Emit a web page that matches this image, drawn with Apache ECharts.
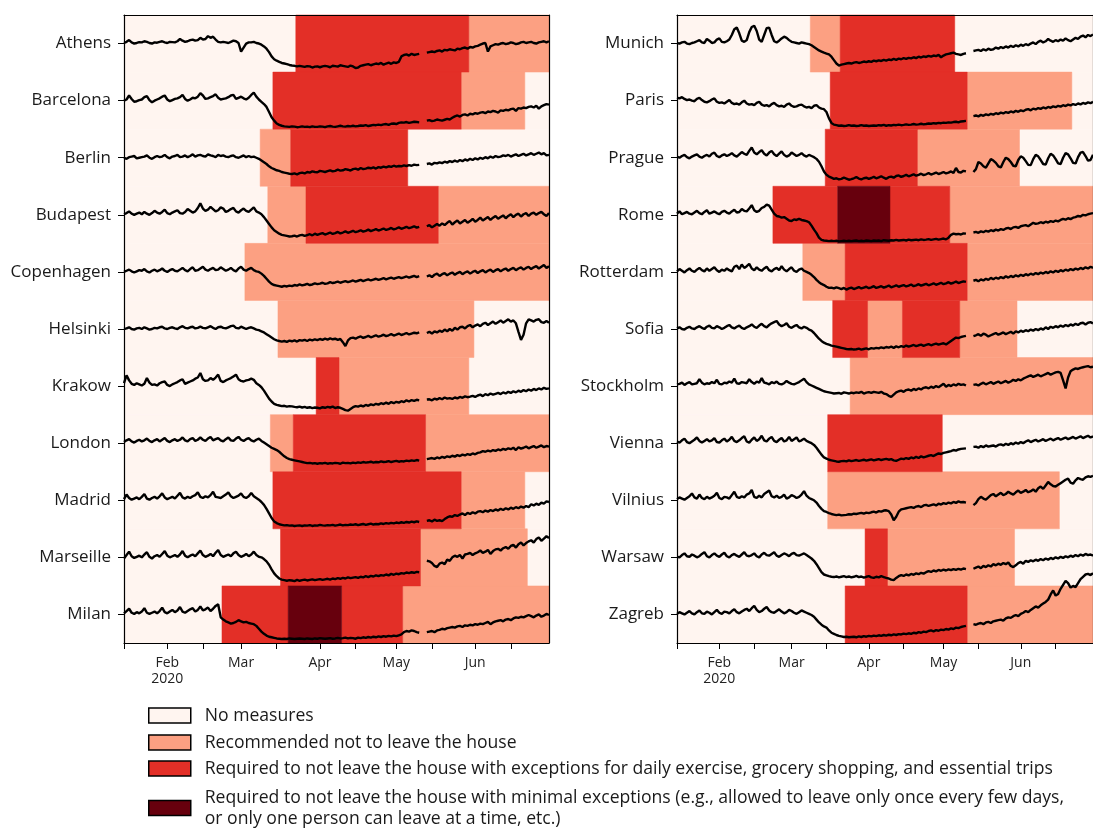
<!DOCTYPE html>
<html><head><meta charset="utf-8">
<script src="https://cdn.jsdelivr.net/npm/echarts@6/dist/echarts.min.js"></script>
<style>html,body{margin:0;padding:0;background:#fff}#c{width:1093px;height:829px}</style>
</head><body><div id="c"></div>
<script>
const startDate = '2020-01-15';
const axisEnd = '2020-06-30';
const leftCities = ['Athens','Barcelona','Berlin','Budapest','Copenhagen','Helsinki','Krakow','London','Madrid','Marseille','Milan'];
const rightCities = ['Munich','Paris','Prague','Rome','Rotterdam','Sofia','Stockholm','Vienna','Vilnius','Warsaw','Zagreb'];
const levelNames = [
  'No measures',
  'Recommended not to leave the house',
  'Required to not leave the house with exceptions for daily exercise, grocery shopping, and essential trips',
  'Required to not leave the house with minimal exceptions (e.g., allowed to leave only once every few days,\nor only one person can leave at a time, etc.)'
];
const levelColors = ['#fff5f0','#fca082','#e32f27','#67000d'];
const tickDates = ['2020-01-15','2020-02-01','2020-02-15','2020-03-01','2020-03-15','2020-04-01','2020-04-15','2020-05-01','2020-05-15','2020-06-01','2020-06-15'];
const labelDates = ['2020-02-01','2020-03-01','2020-04-01','2020-05-01','2020-06-01'];
const labelTexts = ['Feb\n2020','Mar','Apr','May','Jun'];

// measures: [first day of period, level]
const measAthens = [['2020-01-15',0],['2020-03-23',2],['2020-05-30',1]];
const measBarcelona = [['2020-01-15',0],['2020-03-14',2],['2020-05-27',1],['2020-06-21',0]];
const measBerlin = [['2020-01-15',0],['2020-03-09',1],['2020-03-21',2],['2020-05-06',0]];
const measBudapest = [['2020-01-15',0],['2020-03-12',1],['2020-03-27',2],['2020-05-18',1]];
const measCopenhagen = [['2020-01-15',0],['2020-03-03',1]];
const measHelsinki = [['2020-01-15',0],['2020-03-16',1],['2020-06-01',0]];
const measKrakow = [['2020-01-15',0],['2020-03-31',2],['2020-04-09',1],['2020-05-30',0]];
const measLondon = [['2020-01-15',0],['2020-03-13',1],['2020-03-22',2],['2020-05-13',1]];
const measMadrid = [['2020-01-15',0],['2020-03-14',2],['2020-05-27',1],['2020-06-21',0]];
const measMarseille = [['2020-01-15',0],['2020-03-17',2],['2020-05-11',1],['2020-06-22',0]];
const measMilan = [['2020-01-15',0],['2020-02-23',2],['2020-03-20',3],['2020-04-10',2],['2020-05-04',1]];
const measMunich = [['2020-01-15',0],['2020-03-09',1],['2020-03-21',2],['2020-05-06',0]];
const measParis = [['2020-01-15',0],['2020-03-17',2],['2020-05-11',1],['2020-06-22',0]];
const measPrague = [['2020-01-15',0],['2020-03-15',2],['2020-04-21',1],['2020-06-01',0]];
const measRome = [['2020-01-15',0],['2020-02-23',2],['2020-03-20',3],['2020-04-10',2],['2020-05-04',1]];
const measRotterdam = [['2020-01-15',0],['2020-03-06',1],['2020-03-23',2],['2020-05-11',1]];
const measSofia = [['2020-01-15',0],['2020-03-18',2],['2020-04-01',1],['2020-04-15',2],['2020-05-08',1],['2020-05-31',0]];
const measStockholm = [['2020-01-15',0],['2020-03-25',1]];
const measVienna = [['2020-01-15',0],['2020-03-16',2],['2020-05-01',0]];
const measVilnius = [['2020-01-15',0],['2020-03-16',1],['2020-06-17',0]];
const measWarsaw = [['2020-01-15',0],['2020-03-31',2],['2020-04-09',1],['2020-05-30',0]];
const measZagreb = [['2020-01-15',0],['2020-03-23',2],['2020-05-11',1]];

// daily mobility change (%) vs baseline, from 2020-01-15
const mobAthens = [2,6,12,4,0,2,5,4,8,6, 2,0,4,3,6,8,4,2,6,5, 4,8,16,10,6,8,12,14,10,12, 20,14,16,26,20,24,14,6,4,6, 4,2,6,10,8,2,-28,-14,0,4,
 4,6,2,0,-4,-10,-18,-30,-45,-55, -60,-64,-68,-70,-72,-75,-77,-78,-80,-78, -80,-82,-79,-80,-84,-81,-80,-83,-80,-78, -80,-83,-78,-79,-81,-76,-78,-80,-82,-77,
 -80,-86,-84,-78,-76,-74,-72,-76,-73,-70, -72,-68,-74,-70,-67,-71,-66,-68,-64,-45, -40,-38,-42,-36,-40,-38,-36,null,null,-32, -30,-28,-30,-26,-24,-28,-22,-24,-20,-22,
 -24,-18,-20,-16,-14,-18,-12,-14,-10,-8, -4,0,2,-28,-10,-6,-2,-4,0,2, -2,0,4,2,-2,0,4,6,2,4, 6,2,0,4,6,8,4,8];
const mobBarcelona = [0,4,18,6,-4,-2,2,4,12,16, 2,-6,0,4,8,14,18,4,-2,2, 6,8,12,20,6,0,4,10,8,14, 26,18,6,8,12,16,22,10,4,6, 8,12,18,20,6,10,14,8,4,10,
 20,28,14,4,-4,-12,-22,-40,-58,-70, -80,-85,-88,-90,-91,-92,-90,-91,-93,-92, -90,-92,-91,-93,-90,-92,-92,-90,-91,-93, -90,-89,-91,-92,-90,-88,-90,-91,-89,-90,
 -88,-90,-89,-87,-88,-86,-89,-87,-85,-86, -84,-86,-83,-82,-85,-81,-80,-82,-78,-76, -77,-75,-78,-76,-74,-75,-76,null,null,-70, -68,-72,-70,-66,-68,-70,-67,-64,-66,-60,
 -55,-52,-56,-50,-48,-52,-46,-48,-44,-46, -42,-40,-44,-38,-40,-36,-38,-42,-34,-36, -32,-34,-30,-28,-36,-26,-28,-24,-26,-22, -20,-24,-18,-28,-20,-16,-12,-14];
const mobBerlin = [0,-4,2,4,6,-2,0,2,4,8, 0,-4,2,6,2,4,10,2,-2,4, 6,10,2,4,8,2,6,12,4,8, 10,6,4,12,8,6,2,10,6,8, 4,2,6,8,2,0,4,8,2,6,
 2,4,0,-4,-10,-16,-22,-30,-36,-40, -44,-46,-50,-52,-54,-56,-57,-55,-58,-54, -52,-55,-50,-52,-48,-50,-51,-46,-48,-50, -47,-44,-48,-46,-42,-45,-44,-40,-42,-45,
 -40,-38,-42,-36,-40,-38,-35,-37,-34,-38, -33,-35,-31,-34,-30,-32,-28,-31,-29,-30, -27,-29,-26,-28,-24,-26,-25,null,null,-22, -20,-24,-18,-20,-16,-19,-14,-17,-12,-15,
 -10,-14,-8,-12,-6,-10,-4,-8,-2,-6, 0,-4,2,-2,4,0,6,2,4,8, 6,10,4,8,12,6,10,14,8,12, 16,10,14,18,12,16,8,10];
const mobBudapest = [2,6,12,4,0,4,8,2,10,4, 0,6,14,8,4,10,18,6,2,8, 12,16,6,4,10,20,14,8,12,24, 40,22,14,18,28,20,12,16,26,22, 10,14,20,24,12,8,16,22,14,10,
 18,26,12,8,2,-8,-20,-32,-44,-54, -60,-66,-70,-72,-74,-76,-75,-73,-76,-72, -70,-74,-71,-68,-72,-66,-70,-67,-64,-69, -66,-62,-67,-64,-60,-65,-62,-58,-63,-60,
 -56,-61,-58,-54,-59,-56,-52,-57,-54,-50, -55,-52,-48,-53,-50,-46,-51,-48,-44,-49, -46,-42,-47,-44,-40,-45,-42,null,null,-40, -36,-44,-38,-32,-38,-30,-36,-28,-22,-34,
 -26,-20,-30,-24,-18,-28,-22,-14,-24,-18, -10,-20,-14,-8,-18,-10,-4,-14,-8,-2, -12,-4,2,-8,0,4,-6,2,6,-4, 4,8,0,6,10,2,-4,6];
const mobCopenhagen = [0,4,8,2,-2,2,6,4,10,2, -2,4,8,2,6,12,4,0,6,10, 4,2,8,14,6,2,10,16,4,6, 12,18,8,4,10,14,6,8,16,10, 4,8,14,6,2,12,18,8,4,10,
 14,6,2,0,-6,-14,-24,-34,-42,-46, -48,-50,-52,-49,-51,-48,-50,-46,-48,-44, -47,-45,-42,-46,-44,-40,-43,-41,-38,-42, -40,-36,-39,-37,-34,-38,-35,-32,-36,-33,
 -30,-34,-31,-28,-32,-29,-26,-30,-27,-24, -28,-25,-22,-26,-23,-20,-24,-21,-18,-22, -19,-16,-20,-17,-14,-18,-15,null,null,-16, -12,-18,-10,-6,-14,-8,-4,-12,-6,-2,
 -10,-4,0,-8,-2,2,-6,0,4,-4, 2,6,-2,4,8,0,6,10,2,8, 12,4,10,14,6,12,16,8,14,18, 10,16,20,12,18,24,14,20];
const mobHelsinki = [0,2,6,0,-2,2,4,0,6,2, -2,0,4,2,6,8,2,0,4,6, 2,0,6,10,4,2,6,8,2,4, 8,4,2,6,10,4,0,6,8,4, 2,6,10,12,4,2,8,4,0,4,
 6,2,-2,-4,-8,-12,-18,-24,-30,-36, -40,-42,-44,-42,-45,-41,-43,-40,-44,-39, -41,-38,-42,-37,-40,-36,-39,-35,-38,-34, -37,-33,-36,-34,-38,-35,-46,-60,-40,-32,
 -30,-34,-29,-26,-31,-28,-24,-29,-26,-22, -27,-24,-20,-25,-22,-18,-23,-20,-16,-21, -18,-14,-19,-16,-13,-15,-12,null,null,-14, -10,-16,-8,-12,-6,-10,-2,-8,0,-6,
 4,-2,6,8,2,10,14,6,12,16, 10,18,22,14,20,26,18,24,30,22, 28,34,26,30,20,-10,-38,-20,20,34, 30,26,32,34,24,22,28,22];
const mobKrakow = [10,38,20,8,4,10,6,2,8,28, 12,4,6,2,10,14,16,4,0,6, 10,14,20,24,8,12,16,20,26,30, 46,24,18,20,28,22,30,40,18,14, 20,24,28,34,40,24,18,16,20,22,
 26,22,10,4,-4,-16,-30,-44,-54,-62, -66,-68,-70,-69,-72,-70,-71,-73,-74,-72, -75,-73,-76,-74,-77,-75,-76,-78,-74,-76, -73,-75,-72,-77,-74,-76,-80,-84,-86,-80,
 -74,-70,-72,-68,-71,-66,-69,-64,-67,-62, -65,-60,-63,-58,-62,-56,-60,-55,-58,-53, -56,-50,-54,-49,-52,-48,-50,null,null,-47, -46,-50,-44,-47,-42,-46,-40,-44,-42,-45,
 -40,-43,-38,-41,-36,-39,-37,-34,-38,-33, -30,-35,-28,-32,-26,-30,-27,-24,-28,-22, -26,-20,-24,-18,-22,-16,-20,-14,-18,-12, -16,-10,-14,-8,-12,-6,-10,-8];
const mobLondon = [4,10,14,6,2,8,12,6,10,16, 8,4,10,14,6,12,18,8,4,10, 14,8,12,20,10,6,14,18,8,12, 20,12,8,16,22,10,14,18,10,6, 14,20,10,8,16,22,12,8,14,18,
 10,6,12,16,8,2,-4,-10,-16,-20, -24,-30,-38,-46,-52,-56,-58,-60,-62,-64, -66,-68,-70,-69,-71,-70,-72,-70,-71,-69, -72,-70,-71,-69,-70,-72,-68,-70,-69,-71,
 -68,-70,-67,-69,-66,-68,-67,-65,-68,-66, -67,-64,-66,-65,-63,-66,-64,-62,-65,-63, -64,-61,-63,-60,-62,-59,-61,null,null,-56, -54,-52,-55,-50,-53,-48,-51,-46,-49,-44,
 -47,-42,-45,-40,-43,-38,-41,-36,-39,-34, -32,-28,-30,-26,-29,-24,-27,-22,-25,-20, -23,-18,-21,-16,-24,-14,-19,-16,-12,-18, -14,-10,-16,-12,-8,-14,-10,-12];
const mobMadrid = [4,20,8,2,6,10,4,12,22,6, 2,8,12,6,14,24,10,4,8,12, 6,16,26,10,6,12,8,14,18,28, 12,8,14,10,18,30,12,10,8,14, 20,28,14,8,12,16,24,12,8,14,
 26,14,8,2,-6,-16,-30,-46,-62,-74, -80,-84,-86,-88,-87,-89,-88,-90,-89,-88, -90,-88,-89,-87,-90,-88,-89,-86,-88,-89, -87,-88,-86,-89,-87,-85,-88,-86,-87,-85,
 -86,-84,-87,-85,-83,-86,-84,-82,-85,-83, -84,-81,-83,-80,-82,-79,-81,-78,-80,-77, -79,-76,-78,-75,-77,-74,-76,null,null,-72, -70,-74,-68,-72,-70,-73,-66,-60,-56,-58,
 -52,-55,-50,-46,-52,-44,-48,-42,-46,-40, -38,-42,-36,-40,-34,-38,-32,-36,-30,-34, -28,-32,-26,-30,-24,-28,-22,-26,-20,-24, -14,-18,-12,-16,-8,-12,-4,-6];
const mobMarseille = [-4,8,20,4,-2,2,6,0,10,18, 2,-4,4,8,2,12,22,6,0,4, 8,2,10,22,6,0,6,10,4,14, 24,8,2,6,12,4,16,26,8,2, 6,10,4,14,20,8,2,6,12,4,
 10,20,8,2,0,-6,-14,-26,-42,-56, -66,-74,-78,-80,-82,-80,-81,-83,-79,-82, -80,-78,-81,-79,-77,-80,-78,-76,-79,-77, -75,-78,-74,-76,-73,-75,-72,-74,-70,-73,
 -71,-69,-72,-68,-70,-66,-69,-65,-67,-63, -66,-62,-64,-60,-63,-58,-61,-57,-59,-55, -57,-53,-55,-52,-54,-51,-52,null,null,-12, -14,-20,-30,-34,-22,-18,-24,-8,-12,0,
 6,2,8,-4,10,12,16,8,14,18, 24,16,20,26,12,22,28,30,24,32, 36,30,40,44,34,46,52,42,50,56, 60,52,64,70,58,66,74,68];
const mobMilan = [4,12,20,6,2,8,4,10,22,6, 2,6,10,4,12,24,8,4,10,16, 8,14,26,10,6,12,18,22,10,16, 28,14,18,24,12,20,30,36,-10,-18, -24,-28,-32,-30,-26,-20,-24,-28,-26,-30,
 -32,-34,-40,-50,-60,-68,-74,-78,-80,-82, -84,-85,-86,-85,-86,-84,-85,-86,-85,-84, -85,-86,-84,-85,-86,-84,-85,-83,-84,-85, -84,-83,-85,-84,-82,-84,-83,-81,-84,-82,
 -83,-85,-81,-83,-80,-82,-79,-81,-78,-80, -77,-79,-76,-78,-75,-77,-74,-76,-73,-70, -62,-58,-60,-56,-58,-62,-64,null,null,-62, -60,-58,-62,-56,-54,-50,-52,-48,-46,-44,
 -46,-42,-40,-44,-38,-40,-36,-38,-34,-36, -32,-34,-30,-26,-34,-28,-24,-22,-20,-24, -18,-16,-20,-14,-10,-12,-8,-10,-6,-2, -6,-10,-4,0,-8,-4,2,-2];
const mobMunich = [2,0,4,6,0,-2,2,4,8,12, 4,2,16,10,2,4,14,18,6,4, 8,14,30,50,56,36,10,6,12,40, 58,62,44,14,6,30,54,56,30,8, 4,10,18,24,20,12,6,4,2,0,
 4,2,0,-2,-6,-12,-18,-24,-28,-32, -35,-38,-46,-58,-70,-77,-74,-72,-70,-68, -70,-67,-65,-68,-66,-63,-65,-62,-64,-60, -62,-59,-61,-57,-60,-56,-58,-54,-57,-53,
 -55,-51,-54,-50,-52,-48,-51,-46,-49,-45, -47,-43,-46,-42,-44,-40,-48,-42,-38,-36, -34,-32,-36,-38,-40,-36,-34,null,null,-26, -24,-22,-26,-20,-24,-18,-22,-20,-14,-18,
 -12,-16,-10,-14,-8,-12,-6,-10,-4,-8, -2,-6,0,4,-2,6,10,4,8,16, 10,6,12,8,14,10,18,12,8,14, 20,16,24,28,22,30,26,32];
const mobParis = [10,8,12,6,2,4,0,-2,6,10, 2,-4,-6,-2,4,8,-4,-8,-6,-10, -4,2,-8,-12,-10,-14,-6,0,-10,-14, -12,-16,-8,-4,-14,-18,-16,-20,-12,-8, -16,-20,-18,-22,-14,-10,-18,-22,-20,-16,
 -14,-20,-24,-22,-26,-18,-16,-24,-28,-30, -40,-62,-78,-84,-86,-88,-87,-89,-88,-86, -88,-87,-89,-88,-86,-88,-87,-89,-88,-87, -88,-86,-87,-85,-88,-86,-87,-85,-86,-84,
 -86,-85,-83,-85,-84,-82,-84,-83,-81,-83, -82,-80,-81,-79,-80,-78,-79,-77,-78,-76, -77,-75,-74,-76,-73,-72,-71,null,null,-54, -52,-55,-50,-53,-48,-51,-46,-49,-44,-47,
 -42,-45,-40,-43,-38,-41,-36,-39,-34,-37, -32,-30,-34,-28,-31,-26,-29,-24,-27,-22, -25,-20,-23,-18,-21,-16,-19,-14,-17,-12, -15,-10,-13,-8,-11,-6,-9,-4];
const mobPrague = [4,0,6,10,2,-2,4,8,12,4, 0,6,10,4,14,18,6,2,8,12, 6,10,16,8,4,12,20,14,10,24, 36,18,12,20,26,14,8,18,24,12, 6,14,22,10,4,8,18,12,6,10,
 16,8,4,10,6,2,-4,-14,-30,-48, -60,-66,-70,-74,-72,-76,-74,-70,-73,-77, -75,-72,-68,-73,-76,-72,-70,-74,-71,-67, -72,-69,-65,-70,-74,-68,-66,-70,-64,-62,
 -67,-64,-60,-65,-62,-58,-63,-60,-56,-61, -58,-54,-59,-56,-52,-57,-54,-50,-55,-52, -48,-53,-36,-50,-52,-46,-48,null,null,-50, -40,-15,-20,-30,-35,-20,-5,-10,-18,-30,
 -34,-15,0,-5,-15,-28,-30,-8,5,0, -12,-25,-26,-5,10,5,-8,-22,-24,-2, 14,8,-5,-20,-22,0,16,12,-2,-18, -20,2,18,20,6,-10,-8,10];
const mobRome = [4,12,2,6,10,4,2,8,14,6, 2,10,16,4,8,12,6,2,10,14, 8,4,12,18,8,10,20,14,12,22, 34,16,10,14,24,28,36,32,18,4, -4,-6,-10,-8,-14,-20,-22,-16,-18,-14,
 -18,-20,-22,-26,-38,-52,-64,-80,-88,-90, -91,-92,-91,-92,-91,-93,-92,-91,-92,-91, -92,-91,-90,-92,-91,-92,-90,-91,-92,-90, -91,-90,-92,-89,-90,-91,-89,-90,-88,-90,
 -89,-88,-90,-87,-89,-88,-87,-89,-86,-88, -87,-85,-88,-86,-84,-87,-85,-83,-86,-80, -70,-66,-68,-67,-69,-65,-66,null,null,-62, -60,-63,-58,-61,-56,-59,-54,-57,-52,-55,
 -50,-53,-48,-46,-50,-44,-42,-46,-40,-38, -36,-40,-34,-28,-32,-30,-26,-29,-24,-27, -22,-25,-20,-23,-18,-14,-17,-12,-15,-10, -8,-4,-6,0,-2,2,4,6];
const mobRotterdam = [2,10,4,-2,6,12,4,0,8,14, 6,2,12,4,10,16,6,0,8,4, 12,6,2,18,22,10,26,14,20,28, 12,6,16,8,4,12,18,6,2,10, 14,6,20,8,2,10,16,4,0,8,
 12,4,0,-4,-10,-18,-28,-36,-42,-46, -52,-56,-55,-58,-54,-57,-60,-56,-62,-58, -55,-60,-57,-53,-58,-55,-52,-57,-54,-50, -56,-53,-50,-55,-52,-48,-54,-51,-47,-52,
 -49,-46,-51,-48,-44,-50,-47,-43,-48,-45, -42,-47,-44,-40,-45,-42,-38,-43,-40,-36, -41,-38,-34,-39,-36,-33,-35,null,null,-31, -28,-33,-26,-30,-24,-28,-21,-26,-20,-24,
 -18,-22,-15,-20,-14,-18,-12,-16,-10,-14, -8,-12,-6,-10,-4,-8,-2,-6,0,-4, 2,-2,4,0,6,2,8,4,10,6, 12,8,14,10,16,12,18,14];
const mobSofia = [2,6,0,-2,4,8,2,0,6,10, 4,0,8,12,4,2,10,6,0,4, 10,14,6,2,8,12,4,0,6,10, 16,8,4,12,18,10,6,14,20,24, 28,16,10,14,20,8,4,10,14,6,
 2,8,4,-2,-6,-14,-24,-34,-42,-48, -52,-55,-58,-60,-62,-64,-66,-68,-70,-71, -70,-72,-71,-69,-72,-70,-68,-71,-67,-69, -66,-68,-64,-67,-63,-65,-62,-66,-61,-64,
 -60,-63,-58,-62,-59,-56,-60,-57,-55,-59, -56,-53,-57,-54,-51,-55,-52,-50,-54,-48, -42,-36,-30,-32,-28,-26,-24,null,null,-25, -22,-18,-24,-16,-20,-26,-22,-18,-14,-20,
 -16,-12,-18,-14,-10,-16,-8,-12,-6,-10, -4,-8,-2,-6,0,-4,2,-2,6,0, 8,4,10,6,12,8,14,10,16,12, 18,14,20,22,16,22,24,20];
const mobStockholm = [6,8,12,4,10,14,6,8,10,24, 12,6,10,8,14,10,22,8,6,12, 10,16,12,26,10,8,14,12,10,24, 14,8,16,12,28,12,10,6,14,10, 16,8,6,10,18,12,8,6,10,14,
 20,26,14,6,2,-2,-6,-10,-14,-18, -20,-22,-24,-26,-25,-24,-27,-22,-24,-26, -23,-25,-22,-24,-20,-26,-23,-21,-24,-20, -22,-24,-20,-26,-28,-34,-38,-30,-22,-18,
 -16,-20,-14,-12,-16,-10,-14,-8,-12,-6, -4,-8,-2,-6,0,-4,2,8,-2,4, 0,6,2,8,4,6,2,null,null,4, 6,2,8,12,6,10,14,8,12,16,
 10,14,18,12,16,22,18,24,20,26, 30,34,38,32,36,40,34,38,42,46, 40,44,48,50,46,20,-8,30,52,58, 62,60,64,66,68,70,66,68];
const mobVienna = [6,2,10,16,4,0,6,12,20,8, 2,8,14,6,10,18,4,2,10,16, 6,12,22,8,4,10,18,24,6,2, 12,20,8,14,26,10,6,16,22,8, 4,12,18,6,10,22,8,14,20,6,
 10,16,8,4,0,-6,-16,-28,-40,-50, -54,-58,-60,-62,-64,-65,-63,-62,-64,-60, -63,-61,-59,-62,-60,-58,-61,-59,-57,-60, -58,-56,-59,-57,-55,-58,-56,-60,-62,-58,
 -54,-56,-52,-55,-50,-53,-48,-52,-46,-50, -47,-44,-42,-45,-40,-36,-38,-34,-32,-30, -28,-24,-26,-22,-20,-19,-18,null,null,-13, -12,-16,-10,-14,-8,-12,-10,-8,-12,-6,
 -4,-8,-2,-6,0,-4,2,-2,4,0, 6,10,4,8,12,6,10,14,8,12, 16,10,14,18,12,16,20,14,18,22, 16,20,24,18,22,26,20,24];
const mobVilnius = [4,10,6,2,8,14,24,10,6,20, 8,4,12,6,10,16,26,8,4,12, 10,6,18,30,12,8,14,10,20,24, 36,12,8,16,10,22,28,34,14,10, 16,8,12,20,6,10,18,14,8,12,
 20,32,16,8,4,0,-8,-20,-30,-38, -41,-45,-48,-50,-52,-50,-53,-52,-51,-49, -50,-47,-48,-46,-44,-47,-43,-45,-42,-40, -43,-38,-40,-36,-35,-38,-50,-70,-58,-40,
 -32,-30,-28,-26,-24,-27,-22,-20,-24,-18, -16,-20,-17,-14,-18,-12,-15,-10,-13,-8, -11,-6,-9,-4,-7,-6,-8,null,null,-17, -10,4,12,6,2,10,18,22,14,20,
 26,18,22,30,24,20,28,34,26,30, 36,28,32,38,30,42,48,40,52,64, 56,50,48,54,60,66,72,76,62,58, 70,78,74,72,80,84,82,86];
const mobWarsaw = [2,0,8,14,4,2,10,6,0,4, 12,18,4,0,8,14,6,2,10,16, 4,0,8,12,6,2,10,18,6,4, 8,14,4,0,10,16,8,6,12,18, 6,2,8,14,10,4,12,16,8,6,
 10,14,8,2,-4,-12,-24,-38,-52,-60, -63,-66,-68,-69,-67,-70,-68,-66,-69,-67, -70,-68,-65,-69,-67,-71,-68,-66,-70,-72, -68,-70,-66,-69,-72,-74,-78,-80,-72,-66,
 -62,-65,-60,-63,-58,-61,-56,-59,-54,-57, -52,-48,-51,-46,-49,-44,-47,-43,-46,-42, -45,-41,-44,-40,-43,-39,-41,null,null,-40, -36,-32,-38,-30,-34,-28,-32,-24,-28,-22,
 -26,-20,-24,-18,-30,-34,-28,-20,-16,-22, -12,-16,-10,-14,-8,-12,-6,-10,-4,-8, -2,-6,0,-4,2,-2,4,0,6,2, 8,4,10,6,12,8,10,6];
const mobZagreb = [2,8,4,0,6,12,4,0,8,14, 4,2,10,6,0,8,16,6,2,10, 8,4,12,18,8,4,10,16,20,12, 22,30,16,8,12,20,26,14,8,6, 12,18,10,4,8,16,12,6,2,8,
 14,10,6,2,-2,-8,-18,-28,-36,-42, -46,-56,-64,-68,-72,-75,-77,-79,-78,-80, -79,-78,-80,-77,-79,-76,-78,-75,-77,-74, -76,-73,-75,-72,-74,-71,-73,-70,-72,-69,
 -70,-67,-69,-66,-68,-64,-66,-62,-64,-60, -62,-58,-56,-59,-55,-57,-53,-55,-51,-53, -49,-51,-46,-48,-44,-42,-40,null,null,-34, -36,-32,-30,-34,-28,-26,-30,-24,-22,-20,
 -18,-22,-14,-10,-12,-6,-2,-6,2,6, 12,8,16,22,28,24,32,38,44,52, 70,84,66,72,90,104,118,110,94,100, 96,110,124,132,140,142,138,144];

const leftMeas = [measAthens,measBarcelona,measBerlin,measBudapest,measCopenhagen,measHelsinki,measKrakow,measLondon,measMadrid,measMarseille,measMilan];
const rightMeas = [measMunich,measParis,measPrague,measRome,measRotterdam,measSofia,measStockholm,measVienna,measVilnius,measWarsaw,measZagreb];
const leftMob = [mobAthens,mobBarcelona,mobBerlin,mobBudapest,mobCopenhagen,mobHelsinki,mobKrakow,mobLondon,mobMadrid,mobMarseille,mobMilan];
const rightMob = [mobMunich,mobParis,mobPrague,mobRome,mobRotterdam,mobSofia,mobStockholm,mobVienna,mobVilnius,mobWarsaw,mobZagreb];

const FONT = '"Open Sans"';
const HALF_DAY = 12 * 3600 * 1000;
function ts(s) { const p = s.split('-').map(Number); return new Date(p[0], p[1] - 1, p[2]).getTime(); }
function dayTs(d) { const p = startDate.split('-').map(Number); return new Date(p[0], p[1] - 1, p[2] + d).getTime(); }

function renderBand(params, api) {
  const s = api.value(0), e = api.value(1), r = api.value(2);
  const p1 = api.coord([s, r - 0.5]);
  const p2 = api.coord([e, r + 0.5]);
  const cs = params.coordSys;
  const rect = echarts.graphic.clipRectByRect(
    { x: Math.min(p1[0], p2[0]), y: Math.min(p1[1], p2[1]), width: Math.abs(p2[0] - p1[0]), height: Math.abs(p2[1] - p1[1]) },
    { x: cs.x, y: cs.y, width: cs.width, height: cs.height });
  if (!rect) return null;
  const c = api.visual('color');
  return { type: 'rect', shape: rect, style: { fill: c, stroke: c, lineWidth: 0.5 } };
}

const series = [];
function buildPanel(gi, meas, mob) {
  const byLevel = [[], [], [], []];
  meas.forEach((list, row) => {
    list.forEach((m, k) => {
      const s = ts(m[0]) - HALF_DAY;
      const e = k + 1 < list.length ? ts(list[k + 1][0]) - HALF_DAY : ts(axisEnd) + HALF_DAY;
      byLevel[m[1]].push([s, e, row]);
    });
  });
  byLevel.forEach((data, lv) => {
    series.push({
      type: 'custom', name: levelNames[lv], xAxisIndex: gi * 2, yAxisIndex: gi * 2,
      renderItem: renderBand, itemStyle: { color: levelColors[lv] },
      encode: { x: [0, 1], y: 2 }, data: data, z: 1, silent: true
    });
  });
  mob.forEach((vals, row) => {
    series.push({
      type: 'line', xAxisIndex: gi * 2, yAxisIndex: gi * 2, showSymbol: false, symbol: 'none',
      lineStyle: { color: '#000', width: 2.4 }, itemStyle: { color: '#000' }, z: 5, silent: true,
      data: vals.map((v, d) => [dayTs(d), v == null ? '-' : row - v / 200])
    });
  });
}
buildPanel(0, leftMeas, leftMob);
buildPanel(1, rightMeas, rightMob);

const tickVals = tickDates.map(ts);
const labVals = labelDates.map(ts);
function xFmt(v) {
  let best = -1, bd = Infinity;
  labVals.forEach((t, i) => { const d = Math.abs(t - v); if (d < bd) { bd = d; best = i; } });
  return bd < 3600 * 1000 * 2 ? labelTexts[best] : '';
}

function xAxes(gi) {
  return [{
    type: 'value', gridIndex: gi, min: ts(startDate), max: ts(axisEnd), z: 10,
    axisLine: { show: true, onZero: false, lineStyle: { color: '#000', width: 1.2 } },
    axisTick: { show: true, customValues: tickVals, length: 6, lineStyle: { color: '#000', width: 1 } },
    axisLabel: { customValues: labVals, formatter: xFmt, fontSize: 14, lineHeight: 16, color: '#222', margin: 12, fontFamily: FONT },
    splitLine: { show: false }
  }, {
    type: 'value', gridIndex: gi, position: 'top', min: ts(startDate), max: ts(axisEnd), z: 10,
    axisLine: { show: true, onZero: false, lineStyle: { color: '#000', width: 1.2 } },
    axisTick: { show: false }, axisLabel: { show: false }, splitLine: { show: false }
  }];
}
function yAxes(gi, cities) {
  const rows = cities.map((c, i) => i);
  return [{
    type: 'value', gridIndex: gi, inverse: true, min: -0.5, max: 10.5, z: 10,
    axisLine: { show: true, onZero: false, lineStyle: { color: '#000', width: 1.2 } },
    axisTick: { show: true, customValues: rows, length: 6, lineStyle: { color: '#000', width: 1 } },
    axisLabel: { customValues: rows, formatter: v => cities[Math.round(v)], fontSize: 17, color: '#1a1a1a', margin: 13, fontFamily: FONT },
    splitLine: { show: false }
  }, {
    type: 'value', gridIndex: gi, position: 'right', inverse: true, min: -0.5, max: 10.5, z: 10,
    axisLine: { show: true, onZero: false, lineStyle: { color: '#000', width: 1.2 } },
    axisTick: { show: false }, axisLabel: { show: false }, splitLine: { show: false }
  }];
}

const legendTops = [705, 732, 758, 787];
const legends = levelNames.map((n, i) => ({
  data: [{ name: n, icon: 'rect' }],
  orient: 'vertical', left: 148, top: legendTops[i], itemWidth: 42, itemHeight: 15,
  padding: 0, selectedMode: false,
  itemStyle: { borderColor: '#000', borderWidth: 1.5 },
  textStyle: { fontSize: 17.6, lineHeight: 21, color: '#1a1a1a', fontFamily: FONT, padding: [0, 0, 0, 9] }
}));

const chart = echarts.init(document.getElementById('c'), null, { renderer: 'canvas' });
chart.setOption({
  animation: false,
  backgroundColor: '#fff',
  grid: [
    { left: 124, right: 544, top: 15, bottom: 186 },
    { left: 677, right: -9, top: 15, bottom: 186 }
  ],
  xAxis: xAxes(0).concat(xAxes(1)),
  yAxis: yAxes(0, leftCities).concat(yAxes(1, rightCities)),
  legend: legends,
  series: series
});
</script></body></html>
